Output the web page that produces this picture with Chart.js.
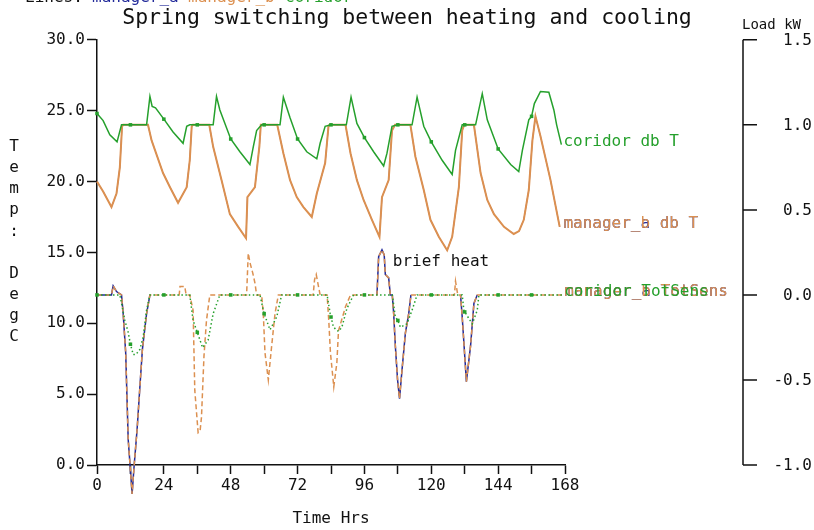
<!DOCTYPE html>
<html>
<head>
<meta charset="utf-8">
<script src="https://cdn.jsdelivr.net/npm/chart.js@4.4.1/dist/chart.umd.min.js"></script>
<style>
  html, body { margin: 0; padding: 0; background: #ffffff; }
  #c { display: block; }
</style>
</head>
<body>
<canvas id="c" width="814" height="530" style="width:814px;height:530px"></canvas>
<script>
// ---------- DATA ----------
const titleText = 'Spring switching between heating and cooling';
const xTickLabels = ['0', '24', '48', '72', '96', '120', '144', '168'];
const tempTickLabels = ['0.0', '5.0', '10.0', '15.0', '20.0', '25.0', '30.0'];
const loadTickLabels = ['-1.0', '-0.5', '0.0', '0.5', '1.0', '1.5'];

// coridor db T (deg C)
const coridorTHours = [0, 2.2, 4.6, 7.2, 8.8, 12, 17.8, 19.0, 19.8, 21, 24, 27.3, 30.9, 32.2, 33.3, 36, 41.7, 42.9, 44.1, 48, 51.3, 54.9, 56.1, 57.3, 59.1, 60, 65.7, 66.9, 69.3, 72, 75.3, 78.9, 80.1, 81.9, 84, 89.5, 91.2, 93.3, 96, 99.3, 102.9, 104.1, 105.9, 108, 113.1, 114.9, 117.3, 120, 123.9, 127.5, 128.7, 131.1, 132, 135.9, 138.3, 140.1, 144, 148.5, 151.4, 152.7, 155.0, 156, 157, 159.2, 162.2, 164.0, 165, 166.7];
const coridorTValues = [24.8, 24.3, 23.3, 22.8, 24.0, 24.0, 24.0, 26.0, 25.3, 25.2, 24.4, 23.5, 22.7, 23.9, 24.0, 24.0, 24.0, 26.0, 25.05, 23.0, 22.1, 21.2, 22.45, 23.6, 24.0, 24.0, 24.0, 25.95, 24.5, 23.0, 22.1, 21.6, 22.7, 23.9, 24.0, 24.0, 25.95, 24.1, 23.1, 22.1, 21.1, 22.0, 23.9, 24.0, 24.0, 25.95, 23.9, 22.8, 21.5, 20.5, 22.2, 24.0, 24.0, 24.0, 26.2, 24.35, 22.3, 21.2, 20.7, 22.2, 24.35, 24.6, 25.5, 26.35, 26.3, 25.05, 24.0, 22.6];

// manager_b db T (deg C)
const managerBTHours = [0, 2.2, 5.2, 7.0, 8.2, 9.0, 9.4, 12, 18.3, 19.6, 23.7, 26.2, 29.1, 32.2, 33.3, 34.0, 34.4, 40.3, 41.7, 44.7, 47.7, 50.7, 53.5, 54.0, 56.7, 58.3, 58.8, 64.7, 66.9, 69.3, 71.7, 74.1, 77.1, 78.9, 81.9, 83.1, 83.5, 89.2, 91.0, 93.3, 95.7, 98.7, 101.4, 102.3, 104.7, 105.9, 107, 112.5, 114.3, 117.3, 119.7, 122.7, 125.7, 127.5, 129.9, 131.1, 131.8, 135.3, 137.7, 140.1, 142.5, 146.1, 149.6, 151.5, 153.2, 155.0, 156.3, 157.4, 159.2, 162.8, 166.1];
const managerBTValues = [20.0, 19.3, 18.2, 19.15, 21.0, 23.9, 24.0, 24.0, 24.0, 22.9, 20.6, 19.6, 18.5, 19.6, 21.5, 23.9, 24.0, 24.0, 22.45, 20.1, 17.7, 16.8, 16.0, 18.9, 19.6, 22.5, 24.0, 24.0, 22.0, 20.1, 18.9, 18.2, 17.5, 19.15, 21.3, 23.9, 24.0, 24.0, 22.0, 20.1, 18.7, 17.3, 16.1, 18.9, 20.1, 23.6, 24.0, 24.0, 21.75, 19.4, 17.3, 16.1, 15.15, 16.1, 19.6, 23.6, 24.0, 24.0, 20.6, 18.7, 17.7, 16.8, 16.3, 16.5, 17.3, 19.4, 22.9, 24.6, 23.2, 20.1, 16.8];

// manager_a db T lies under manager_b db T in the picture
const managerATHours = managerBTHours;
const managerATValues = managerBTValues;

// coridor TotSens (kW)
const coridorLoadHours = [0, 8.2, 10.0, 11.2, 12, 13.0, 14.0, 15.4, 16.6, 17.8, 19.0, 24, 33.3, 34.5, 36, 37.9, 39.9, 41.7, 44.1, 48, 58.5, 59.7, 60, 62.1, 64.5, 66.3, 72, 82.6, 83.7, 84, 84.9, 86.7, 87.9, 89.7, 92.1, 96, 106, 107.1, 108, 108.9, 111.3, 113.1, 114.9, 120, 131.1, 131.7, 132, 134.7, 136.5, 137.1, 144, 156, 167];
const coridorLoadValues = [0, 0, -0.15, -0.22, -0.29, -0.35, -0.35, -0.32, -0.245, -0.09, 0, 0, 0, -0.15, -0.22, -0.31, -0.265, -0.11, 0, 0, 0, -0.09, -0.11, -0.205, -0.13, 0, 0, 0, -0.11, -0.13, -0.19, -0.215, -0.19, -0.08, 0, 0, 0, -0.13, -0.15, -0.19, -0.17, -0.09, 0, 0, 0, -0.09, -0.1, -0.17, -0.09, 0, 0, 0, 0];

// manager_b TotSens (kW)
const managerBLoadHours = [0, 5.2, 5.8, 7.0, 8.8, 9.4, 10.3, 11.2, 12.0, 12.6, 13.3, 14.4, 15.4, 16.3, 17.8, 19.0, 29.5, 29.8, 31.5, 32.0, 33.3, 34.5, 35.1, 36.3, 37.0, 37.5, 38.4, 39.3, 40.5, 53.7, 54.3, 54.9, 55.9, 56.7, 57.3, 59.1, 59.7, 60.3, 61.5, 62.7, 63.9, 65.1, 77.6, 78.1, 78.7, 79.5, 80.1, 82.6, 83.2, 83.8, 85.0, 86.1, 86.7, 89.2, 91.0, 100.5, 101.1, 102.3, 103.1, 103.5, 104.7, 105.3, 106.0, 106.5, 107.1, 107.9, 108.6, 109.5, 110.7, 111.9, 112.7, 128.3, 128.7, 129.5, 130.5, 131.1, 131.7, 132.6, 134.1, 135.3, 136.5, 167];
const managerBLoadValues = [0, 0, 0.053, 0.02, 0, -0.11, -0.34, -0.85, -1.03, -1.17, -1.01, -0.79, -0.54, -0.32, -0.11, 0, 0, 0.05, 0.05, 0, 0, -0.09, -0.56, -0.81, -0.80, -0.72, -0.36, -0.15, 0, 0, 0.245, 0.19, 0.13, 0.07, 0, 0, -0.11, -0.34, -0.5, -0.3, -0.11, 0, 0, 0.09, 0.12, 0.05, 0, 0, -0.15, -0.34, -0.54, -0.40, -0.21, -0.07, 0, 0, 0.225, 0.265, 0.235, 0.12, 0.10, 0, 0, -0.11, -0.30, -0.5, -0.61, -0.44, -0.225, -0.11, 0, 0, 0.08, 0, 0, -0.13, -0.28, -0.51, -0.30, -0.05, 0, 0];

// manager_a TotSens (kW) - visible only where it departs from zero
const managerALoadHours = [0, 5.2, 5.8, 7.0, 8.8, 9.4, 10.3, 11.2, 12.0, 12.6, 13.3, 14.4, 15.4, 16.3, 17.8, 19.0, 20, 100.5, 101.1, 102.3, 103.1, 103.5, 104.7, 105.3, 106.0, 106.5, 107.1, 107.9, 108.6, 109.5, 110.7, 111.9, 112.7, 113.5, 130.5, 131.1, 131.7, 132.6, 134.1, 135.3, 136.5];
const managerALoadValues = [0, 0, 0.053, 0.02, 0, -0.11, -0.34, -0.85, -1.03, -1.17, -1.01, -0.79, -0.54, -0.32, -0.11, 0, null, 0, 0.225, 0.265, 0.235, 0.12, 0.10, 0, 0, -0.11, -0.30, -0.5, -0.61, -0.44, -0.225, -0.11, 0, null, 0, -0.13, -0.28, -0.51, -0.30, -0.05, 0];

// ---------- STYLE ----------
const FONT = '"DejaVu Sans Mono", "Liberation Mono", monospace';
const GREEN = '#25a02c';
const ORANGE = '#dc9050';
const BLUE = '#222a9a';
const INK = '#111111';

function pts(h, v) { return h.map((x, i) => ({ x: x, y: v[i] })); }
const marker12 = ctx => (ctx.raw && ctx.raw.x % 12 === 0) ? 2.5 : 0;

const textPlugin = {
  id: 'texts',
  afterDraw(chart) {
    const { ctx, scales } = chart;
    const x = scales.x, y = scales.y, y2 = scales.y2;
    ctx.save();
    // right axis line, ticks and labels
    const ax = y2.left + 178;
    ctx.strokeStyle = INK;
    ctx.lineWidth = 1.5;
    ctx.beginPath();
    ctx.moveTo(ax, y2.getPixelForValue(1.5));
    ctx.lineTo(ax, y2.getPixelForValue(-1.0));
    y2.ticks.forEach(t => {
      const py = y2.getPixelForValue(t.value);
      ctx.moveTo(ax, py);
      ctx.lineTo(ax + 14, py);
    });
    ctx.stroke();

    ctx.fillStyle = INK;
    ctx.font = '16px ' + FONT;
    ctx.textAlign = 'right';
    ctx.textBaseline = 'middle';
    y2.ticks.forEach(t => {
      const idx = Math.round((t.value + 1) / 0.5);
      ctx.fillText(loadTickLabels[idx], 812, y2.getPixelForValue(t.value) + 1);
    });

    ctx.textBaseline = 'alphabetic';
    ctx.textAlign = 'left';
    ctx.font = '14px ' + FONT;
    ctx.fillText('Load kW', ax - 1, 29);

    // vertical stacked left axis title
    ctx.font = '16px ' + FONT;
    ctx.textAlign = 'center';
    ctx.textBaseline = 'middle';
    const chars = ['T', 'e', 'm', 'p', ':', ' ', 'D', 'e', 'g', 'C'];
    chars.forEach((c, i) => ctx.fillText(c, 14, 147 + i * 21.1));

    // top legend line (cut off at the top edge)
    ctx.textAlign = 'left';
    ctx.textBaseline = 'alphabetic';
    ctx.fillStyle = INK; ctx.fillText('Lines:', 25, 1.5);
    ctx.fillStyle = BLUE; ctx.fillText('manager_a', 92, 1.5);
    ctx.fillStyle = ORANGE; ctx.fillText('manager_b', 188, 1.5);
    ctx.fillStyle = GREEN; ctx.fillText('coridor', 285, 1.5);

    // end-of-line labels
    ctx.textBaseline = 'middle';
    const endLabel = (hours, vals, scale, text, color) => {
      let i = vals.length - 1;
      while (i > 0 && vals[i] === null) i--;
      const px = x.getPixelForValue(hours[i]);
      const py = scale.getPixelForValue(vals[i]);
      ctx.fillStyle = color;
      ctx.fillText(text, Math.max(px, x.getPixelForValue(166.7)) + 2, py - 3);
    };
    endLabel(coridorTHours, coridorTValues, y, 'coridor db T', GREEN);
    endLabel(managerATHours, managerATValues, y, 'manager_a db T', BLUE);
    endLabel(managerBTHours, managerBTValues, y, 'manager_b db T', ORANGE);
    endLabel(coridorLoadHours, coridorLoadValues, y2, 'manager_a TotSens', BLUE);
    endLabel(managerBLoadHours, managerBLoadValues, y2, 'manager_b TotSens', ORANGE);
    endLabel(coridorLoadHours, coridorLoadValues, y2, 'coridor TotSens', GREEN);

    // annotation
    ctx.fillStyle = INK;
    ctx.fillText('brief heat', x.getPixelForValue(106.2), y2.getPixelForValue(0.195));
    ctx.restore();
  }
};

Chart.defaults.font.family = FONT;
Chart.defaults.color = INK;

new Chart(document.getElementById('c'), {
  type: 'line',
  data: {
    datasets: [
      { label: 'coridor TotSens', data: pts(coridorLoadHours, coridorLoadValues), yAxisID: 'y2',
        borderColor: GREEN, backgroundColor: GREEN, borderWidth: 1.5, borderDash: [1.5, 2.5],
        pointRadius: marker12, pointStyle: 'rect', pointBorderWidth: 0, clip: false },
      { label: 'manager_b TotSens', data: pts(managerBLoadHours, managerBLoadValues), yAxisID: 'y2',
        borderColor: ORANGE, borderWidth: 1.5, borderDash: [5, 3], pointRadius: 0, clip: false },
      { label: 'manager_a TotSens', data: pts(managerALoadHours, managerALoadValues), yAxisID: 'y2',
        borderColor: BLUE, borderWidth: 1.5, pointRadius: 0, spanGaps: false, clip: false },
      { label: 'coridor db T', data: pts(coridorTHours, coridorTValues), yAxisID: 'y',
        borderColor: GREEN, backgroundColor: GREEN, borderWidth: 1.5,
        pointRadius: marker12, pointStyle: 'rect', pointBorderWidth: 0, clip: false },
      { label: 'manager_b db T', data: pts(managerBTHours, managerBTValues), yAxisID: 'y',
        borderColor: ORANGE, borderWidth: 2, pointRadius: 0, clip: false },
      { label: 'manager_a db T', data: pts(managerATHours, managerATValues), yAxisID: 'y',
        borderColor: BLUE, borderWidth: 0.8, pointRadius: 0, clip: false }
    ]
  },
  options: {
    responsive: false,
    animation: false,
    devicePixelRatio: 1,
    layout: { padding: 0 },
    plugins: {
      legend: { display: false },
      tooltip: { enabled: false },
      title: {
        display: true, text: titleText, color: INK,
        font: { family: FONT, size: 21.5, weight: 'normal', lineHeight: 1.2 },
        padding: { top: 6, bottom: 8 }
      }
    },
    scales: {
      x: {
        type: 'linear', position: 'bottom', min: 0, max: 168,
        ticks: {
          stepSize: 12, autoSkip: false, maxRotation: 0, padding: 2, color: INK,
          font: { size: 16 },
          callback: v => (v % 24 === 0 ? xTickLabels[v / 24] : '')
        },
        grid: { drawOnChartArea: false, tickLength: 9, tickColor: INK, tickWidth: 1.5 },
        border: { color: INK, width: 1.5 },
        title: { display: true, text: 'Time Hrs', color: INK, font: { size: 16 }, padding: { top: 0, bottom: 2 } },
        afterFit: s => { s.height = 65; }
      },
      y: {
        position: 'left', min: 0, max: 30,
        ticks: {
          stepSize: 5, padding: 2, color: INK, font: { size: 16 },
          callback: v => tempTickLabels[Math.round(v / 5)]
        },
        grid: { drawOnChartArea: false, tickLength: 10, tickColor: INK, tickWidth: 1.5 },
        border: { color: INK, width: 1.5 },
        afterFit: s => { s.width = 97; }
      },
      y2: {
        position: 'right', min: -1, max: 1.5,
        ticks: { stepSize: 0.5, display: false },
        grid: { display: false, drawOnChartArea: false },
        border: { display: false },
        afterFit: s => { s.width = 249; }
      }
    }
  },
  plugins: [textPlugin]
});
</script>
</body>
</html>
